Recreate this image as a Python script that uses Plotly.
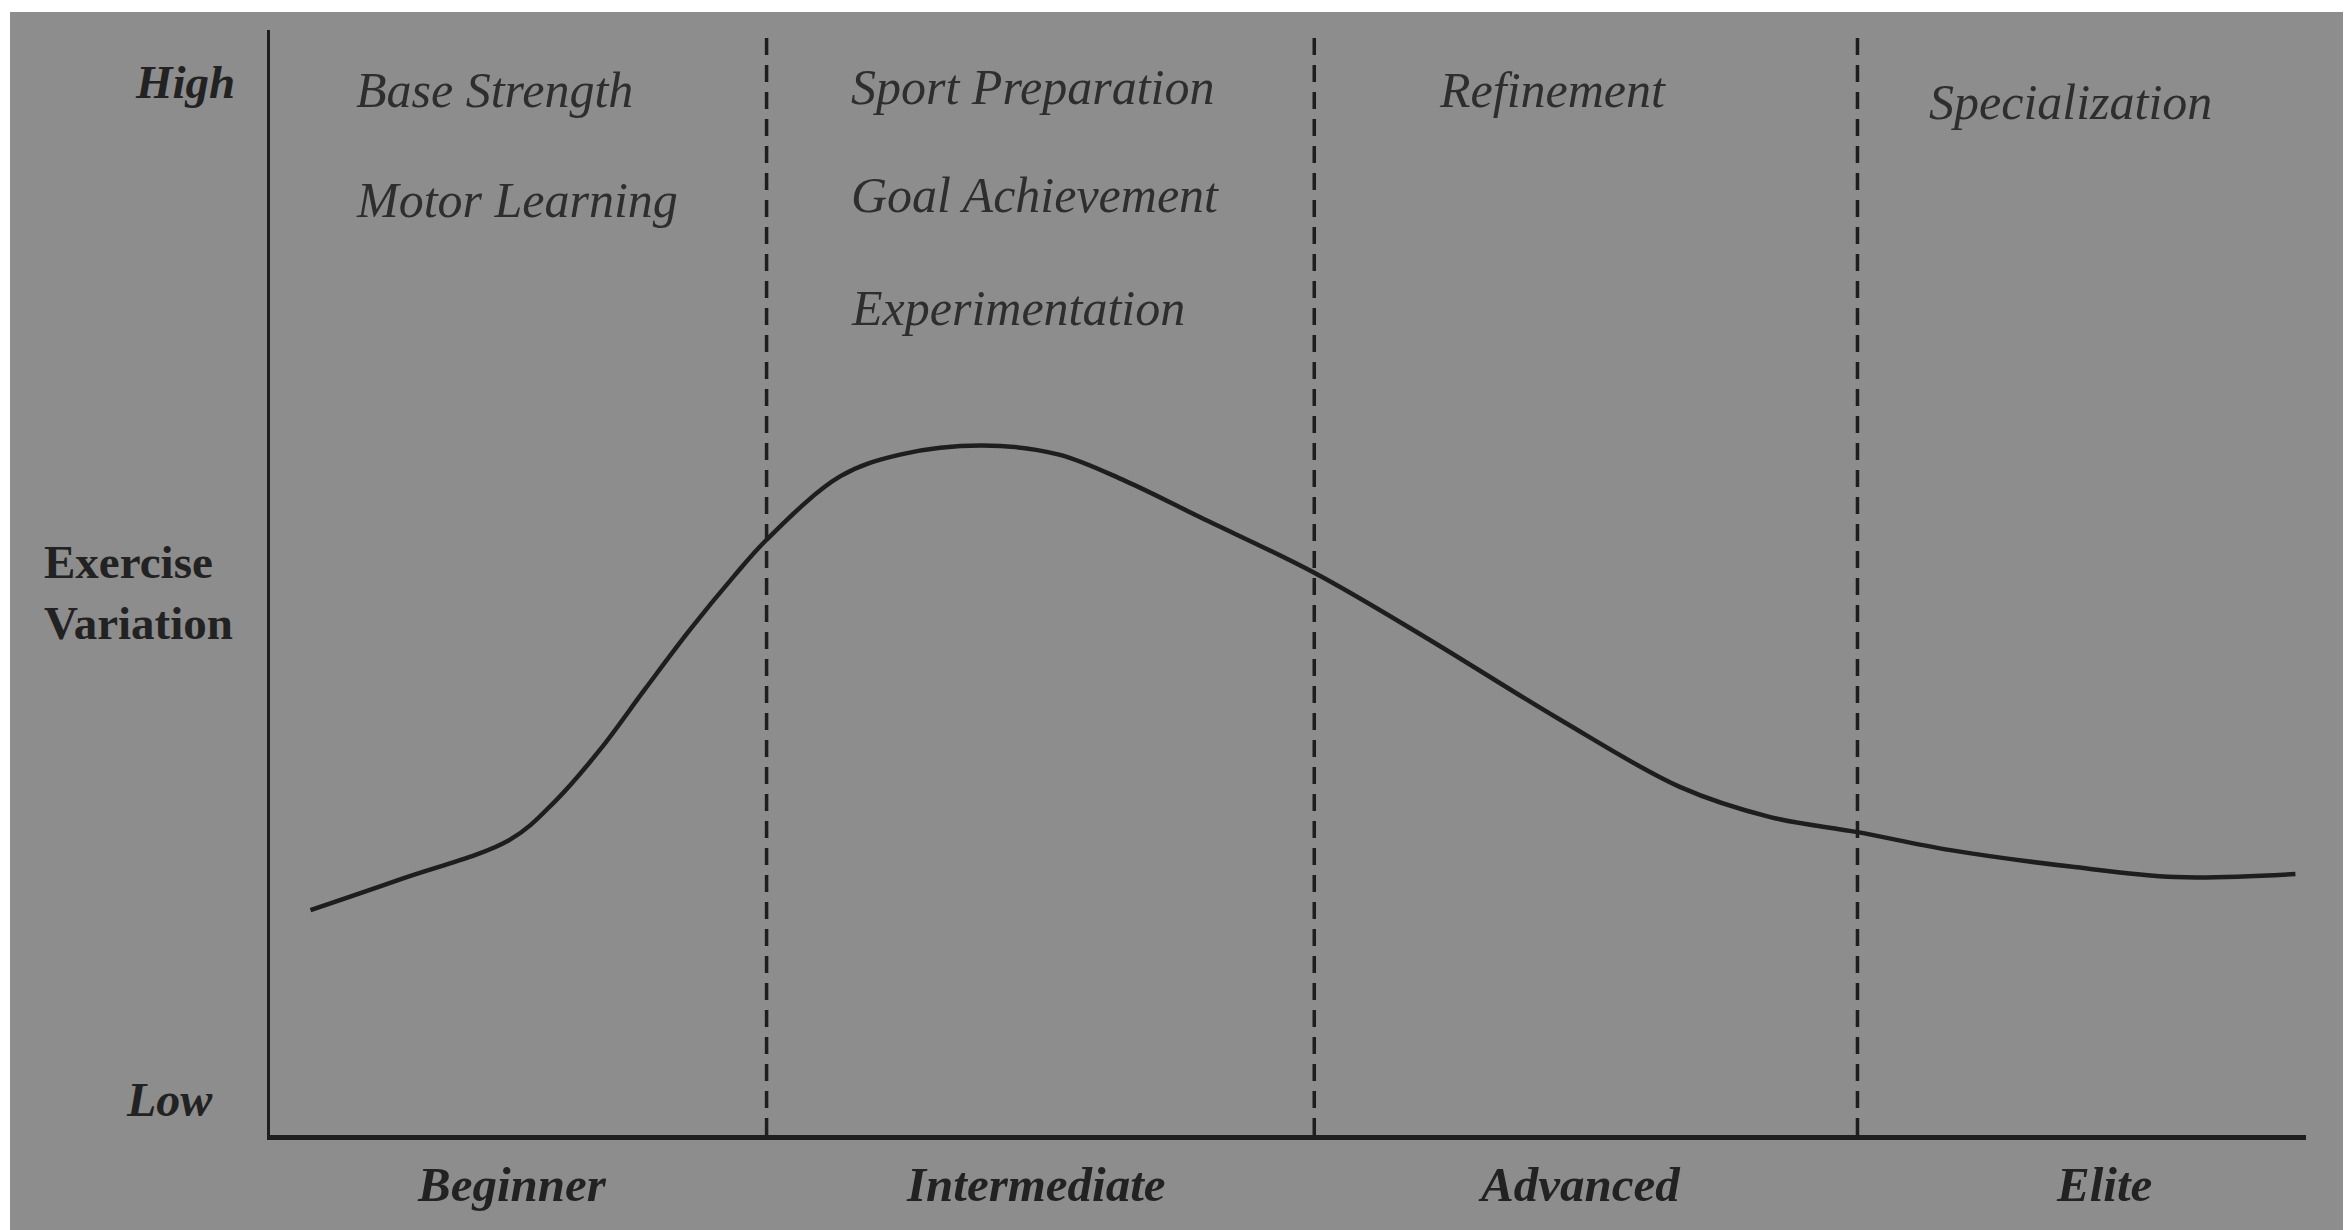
import plotly.graph_objects as go

# Curve: exercise variation vs training progression (0-100 arbitrary units)
curve_x = [1.99, 6.5, 11.79, 14.0, 16.21, 18.4, 20.63, 22.8, 24.39, 28.0, 31.0,
           35.0, 38.7, 42.0, 45.69, 51.29, 56.74, 63.37, 69.27, 73.69,
           77.97, 82.54, 88.43, 93.59, 99.48]
curve_y = [20.35, 23.2, 26.73, 30.2, 34.87, 40.3, 45.73, 50.6, 53.87, 59.6, 61.6,
           62.4, 61.6, 59.2, 55.90, 50.88, 45.05, 37.58, 31.48, 28.77,
           27.41, 25.78, 24.29, 23.34, 23.61]

# Stage boundaries (dashed lines)
boundaries = [24.39, 51.29, 77.97]

stages = ["Beginner", "Intermediate", "Advanced", "Elite"]
stage_x = [11.9, 37.6, 64.3, 90.1]

phase_labels = ["Base Strength", "Motor Learning", "Sport Preparation", "Goal Achievement",
                "Experimentation", "Refinement", "Specialization"]
phase_x = [4.13, 4.13, 28.45, 28.45, 28.45, 57.33, 81.4]
phase_y = [94.6, 84.6, 94.8, 85.1, 74.8, 94.6, 93.5]

y_axis_title = "Exercise<br>Variation"
y_high, y_low = "High", "Low"

GRAY = "#8d8d8d"
INK = "#1e1e1e"
SERIF = "Liberation Serif, Times New Roman, serif"

fig = go.Figure()

fig.add_trace(go.Scatter(
    x=curve_x, y=curve_y, mode="lines",
    line=dict(color=INK, width=4.5, shape="spline", smoothing=1.0),
    hoverinfo="skip", showlegend=False,
))

shapes = [
    dict(type="rect", xref="paper", yref="paper", x0=-0.1277, x1=1.0184,
         y0=-0.09, y1=1.0163, fillcolor=GRAY, line=dict(width=0), layer="below"),
]
for b in boundaries:
    shapes.append(dict(type="line", xref="x", yref="y", x0=b, x1=b, y0=0, y1=100.5,
                       line=dict(color="#1e1e1e", width=3.5, dash="17px,10px")))

annotations = []
for t, x, y in zip(phase_labels, phase_x, phase_y):
    annotations.append(dict(text=t, x=x, y=y, xref="x", yref="y", xanchor="left",
                            yanchor="middle", showarrow=False,
                            font=dict(family=SERIF, size=50, color="#2e2e2e", style="italic")))
for t, x in zip(stages, stage_x):
    annotations.append(dict(text=t, x=x, y=-0.0448, xref="x", yref="paper", xanchor="center",
                            yanchor="middle", showarrow=False,
                            font=dict(family=SERIF, size=49, color="#222222",
                                      style="italic", weight="bold")))
annotations.append(dict(text=y_high, x=-0.0162, y=0.953, xref="paper", yref="paper",
                        xanchor="right", yanchor="middle", showarrow=False,
                        font=dict(family=SERIF, size=47, color="#222222",
                                  style="italic", weight="bold")))
annotations.append(dict(text=y_low, x=-0.027, y=0.032, xref="paper", yref="paper",
                        xanchor="right", yanchor="middle", showarrow=False,
                        font=dict(family=SERIF, size=48, color="#222222",
                                  style="italic", weight="bold")))
annotations.append(dict(text=y_axis_title, x=-0.112, y=0.4907, xref="paper", yref="paper",
                        xanchor="left", yanchor="middle", align="left", showarrow=False,
                        font=dict(family=SERIF, size=47, color="#222222", weight="bold")))

fig.update_layout(
    width=2343, height=1222,
    margin=dict(l=262, r=45, t=22, b=95),
    paper_bgcolor="white", plot_bgcolor=GRAY,
    shapes=shapes, annotations=annotations,
    xaxis=dict(range=[0, 100], showgrid=False, zeroline=False, showticklabels=False,
               ticks="", showline=True, linecolor=INK, linewidth=5, fixedrange=True),
    yaxis=dict(range=[0, 100], showgrid=False, zeroline=False, showticklabels=False,
               ticks="", showline=True, linecolor=INK, linewidth=3, fixedrange=True),
    showlegend=False,
)

fig.write_html("out.html")
